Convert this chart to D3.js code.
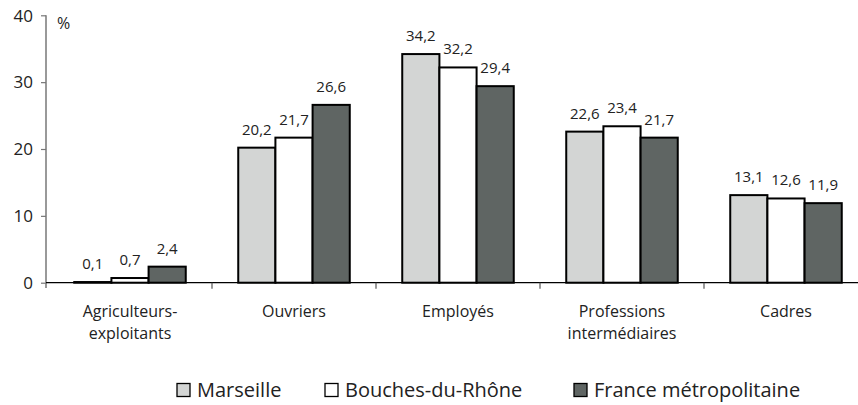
<!DOCTYPE html>
<html><head><meta charset="utf-8">
<script src="https://cdn.jsdelivr.net/npm/d3@7/dist/d3.min.js"></script>
<style>body{margin:0;background:#fff}svg{display:block}text{font-family:"Open Sans",sans-serif;fill:#222}</style>
</head><body><svg id="c" width="858" height="405"></svg>
<script>
const categories = [["Agriculteurs-","exploitants"],["Ouvriers"],["Employés"],["Professions","intermédiaires"],["Cadres"]];
const seriesNames = ["Marseille","Bouches-du-Rhône","France métropolitaine"];
const marseille = [0.1, 20.2, 34.2, 22.6, 13.1];
const bouches = [0.7, 21.7, 32.2, 23.4, 12.6];
const france = [2.4, 26.6, 29.4, 21.7, 11.9];
const yTicks = [0, 10, 20, 30, 40];
const colors = ["#d3d5d4", "#ffffff", "#5f6563"];

const series = [marseille, bouches, france];
const svg = d3.select("#c");
const catKeys = categories.map(c => c.join(" "));
const x = d3.scaleBand().domain(catKeys).range([48, 868]).paddingInner(0.32).paddingOuter(0.16);
const xs = d3.scaleBand().domain(seriesNames).range([0, x.bandwidth()]);
const y = d3.scaleLinear().domain([0, 40]).range([282.7, 15.3]);

// y axis
const ya = svg.append("g").attr("transform","translate(46,0)")
  .call(d3.axisLeft(y).tickValues(yTicks).tickSize(5).tickFormat(d3.format("d")));
ya.select(".domain").attr("stroke","#777").attr("stroke-width",1.5).attr("d","M0,15.3V288");
ya.selectAll(".tick line").attr("stroke","#777").attr("stroke-width",1.2);
ya.selectAll(".tick text").attr("font-size",17).attr("x",-13).attr("dy","0.34em").attr("font-family","Open Sans").attr("fill","#222");

svg.append("text").attr("x",57).attr("y",29).attr("font-size",16).text("%");

// bars
const g = svg.append("g");
catKeys.forEach((k, i) => {
  series.forEach((s, j) => {
    const v = s[i];
    const bx = x(k) + xs(seriesNames[j]);
    g.append("rect").attr("x", bx).attr("y", y(v)).attr("width", xs.bandwidth()).attr("height", y(0) - y(v))
      .attr("fill", colors[j]).attr("stroke", "#000").attr("stroke-width", 2);
    g.append("text").attr("x", bx + xs.bandwidth()/2).attr("y", y(v) - 13).attr("text-anchor","middle")
      .attr("font-size", 15).text(d3.format(".1f")(v).replace(".", ","));
  });
});

// x axis
svg.append("line").attr("x1",46).attr("x2",858).attr("y1",y(0)).attr("y2",y(0)).attr("stroke","#000").attr("stroke-width",1.3);
catKeys.slice(1).forEach(k => {
  const bx = x(k) - x.step()*x.paddingInner()/2;
  svg.append("line").attr("x1",bx).attr("x2",bx).attr("y1",y(0)).attr("y2",y(0)+6).attr("stroke","#555").attr("stroke-width",1.2);
});
categories.forEach((c, i) => {
  const cx = x(catKeys[i]) + x.bandwidth()/2;
  const t = svg.append("text").attr("x", cx).attr("y", 317).attr("text-anchor","middle").attr("font-size",16);
  c.forEach((line, li) => t.append("tspan").attr("x", cx).attr("dy", li ? 22 : 0).text(line));
});

// legend
const legX = [177, 325, 574];
seriesNames.forEach((n, j) => {
  svg.append("rect").attr("x", legX[j]).attr("y", 383.5).attr("width", 13).attr("height", 13)
    .attr("fill", colors[j]).attr("stroke", "#000").attr("stroke-width", 1.3);
  svg.append("text").attr("x", legX[j] + 20).attr("y", 397).attr("font-size", 20).text(n);
});
</script></body></html>
